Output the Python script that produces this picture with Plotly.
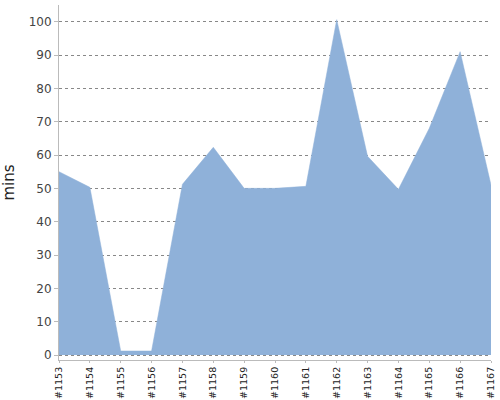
import plotly.graph_objects as go

builds = ["#1153", "#1154", "#1155", "#1156", "#1157", "#1158", "#1159", "#1160",
          "#1161", "#1162", "#1163", "#1164", "#1165", "#1166", "#1167"]
minutes = [55, 50.3, 1.2, 1.2, 51.2, 62.3, 50, 50, 50.6, 100.6, 59.6, 49.7, 68, 91, 51]

fig = go.Figure()
fig.add_trace(go.Scatter(
    x=builds, y=minutes, mode="lines", fill="tozeroy",
    fillcolor="#8fb1d9", line=dict(color="#8fb1d9", width=0.5),
    hoverinfo="x+y",
))

fig.update_layout(
    width=500, height=400,
    margin=dict(l=59, r=9, t=5, b=40),
    paper_bgcolor="white", plot_bgcolor="white",
    showlegend=False,
    font=dict(family="DejaVu Sans", color="#444"),
    xaxis=dict(
        type="category", range=[0, 14], tickangle=-90, automargin=False,
        tickfont=dict(size=9.5, color="#222"),
        showgrid=False, showline=True, linecolor="#bbb", linewidth=1,
        ticks="outside", ticklen=2, tickcolor="#bbb",
    ),
    yaxis=dict(
        range=[-1.5, 105], tickvals=list(range(0, 101, 10)), automargin=False,
        tickfont=dict(size=12, color="#444"),
        showgrid=True, gridcolor="#888", griddash="dot", gridwidth=1,
        showline=True, linecolor="#bbb", linewidth=1,
        ticks="outside", ticklen=4, tickcolor="#bbb",
        zeroline=False,
        title=dict(text="mins", font=dict(size=15, color="#222"), standoff=14),
    ),
)

# drop the default page margin so the 500x400 figure fills the window
fig.write_html("out.html", config={"displayModeBar": False},
               post_script="document.body.style.margin='0';")
